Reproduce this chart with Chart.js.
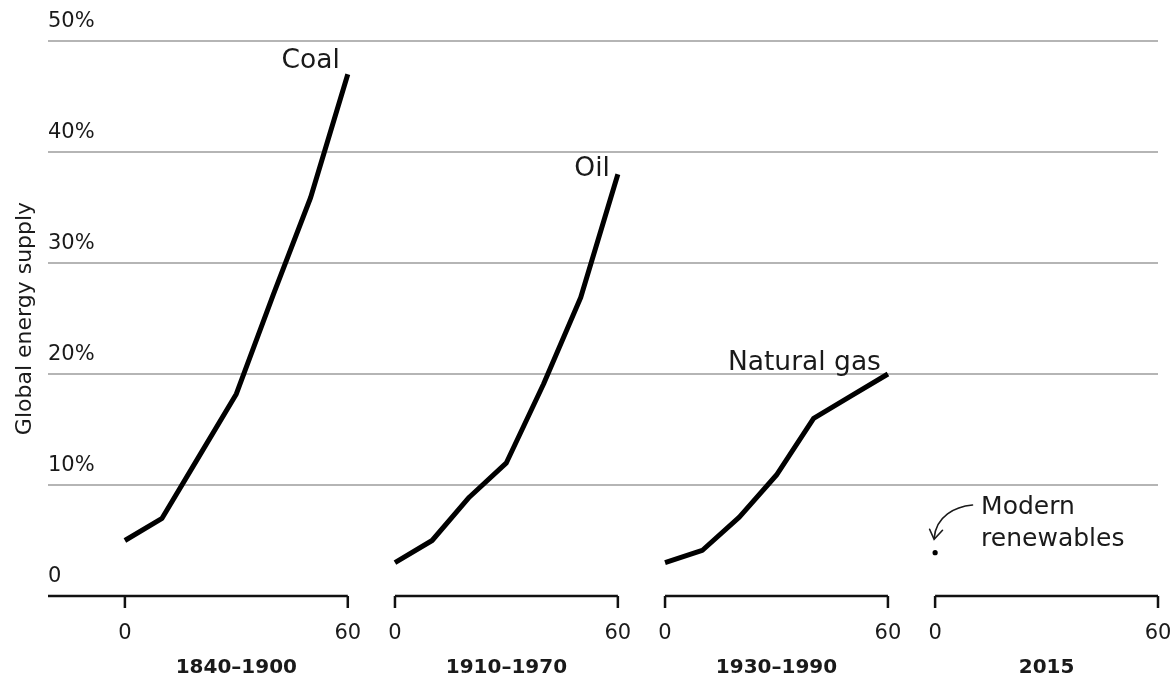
<!DOCTYPE html>
<html>
<head>
<meta charset="utf-8">
<script src="https://cdn.jsdelivr.net/npm/chart.js@4/dist/chart.umd.min.js"></script>
<style>
  html, body { margin: 0; padding: 0; background: #fff; }
  #wrap { width: 1174px; height: 675px; position: relative; }
</style>
</head>
<body>
<div id="wrap"><canvas id="myGraph"></canvas></div>
<script>
// years since the fuel reached ~3-5% of supply
var years = [0, 10, 20, 30, 40, 50, 60];
var coal = [5.0, 7.0, 12.6, 18.2, 27.2, 35.9, 47.0];
var oil = [3.0, 5.0, 8.9, 12.0, 19.1, 26.9, 38.0];
var gas = [3.0, 4.1, 7.1, 10.9, 16.0, 18.0, 20.0];
var renewYears = [0];
var renewables = [3.9];

var seriesNames = ['Coal', 'Oil', 'Natural gas'];
var periods = ['1840\u20131900', '1910\u20131970', '1930\u20131990', '2015'];
var xTicks = [0, 60];
var yTicks = [0, 10, 20, 30, 40, 50];

// each panel sits on one long linear axis, shifted by panelStep
var panelStep = 72.7;
var xMin = -20.7;
var xMax = 3 * panelStep + 60;

var FONT = "'DejaVu Sans', sans-serif";
var INK = '#1a1a1a';

Chart.defaults.font.family = FONT;
Chart.defaults.color = INK;

function toPoints(xs, ys, panel) {
    return xs.map(function (x, i) {
        return { x: x + panel * panelStep, y: ys[i] };
    });
}

var tickValues = [];
for (var p = 0; p < periods.length; p++) {
    xTicks.forEach(function (t) { tickValues.push(t + p * panelStep); });
}

var lineStyle = {
    borderColor: '#000',
    backgroundColor: '#000',
    borderWidth: 5,
    pointRadius: 0,
    tension: 0,
    borderJoinStyle: 'round',
    borderCapStyle: 'butt',
    fill: false
};

var panelPlugin = {
    id: 'panels',
    afterDatasetsDraw: function (chart) {
        var ctx = chart.ctx;
        var xs = chart.scales.x;
        var ys = chart.scales.y;
        var area = chart.chartArea;
        var y0 = ys.getPixelForValue(0);

        ctx.save();
        // panel axis brackets
        ctx.strokeStyle = '#111';
        ctx.lineWidth = 2.5;
        for (var p = 0; p < periods.length; p++) {
            var a = xs.getPixelForValue(p * panelStep);
            var b = xs.getPixelForValue(p * panelStep + 60);
            var start = p === 0 ? area.left : a;
            ctx.beginPath();
            ctx.moveTo(start, y0);
            ctx.lineTo(b, y0);
            ctx.moveTo(a, y0);
            ctx.lineTo(a, y0 + 12);
            ctx.moveTo(b, y0);
            ctx.lineTo(b, y0 + 12);
            ctx.stroke();

            ctx.fillStyle = INK;
            ctx.font = 'bold 20px ' + FONT;
            ctx.textAlign = 'center';
            ctx.textBaseline = 'alphabetic';
            ctx.fillText(periods[p], (a + b) / 2, 673);
        }

        // series labels at the end of each line
        var ends = [coal, oil, gas];
        var offs = [[-8, -6.5], [-8, 1.7], [-7, -4]];
        ctx.font = '26.5px ' + FONT;
        ctx.textAlign = 'right';
        ctx.textBaseline = 'alphabetic';
        for (var i = 0; i < ends.length; i++) {
            var last = ends[i].length - 1;
            var px = xs.getPixelForValue(years[last] + i * panelStep);
            var py = ys.getPixelForValue(ends[i][last]);
            ctx.fillText(seriesNames[i], px + offs[i][0], py + offs[i][1]);
        }

        // modern renewables note and arrow
        var dx = xs.getPixelForValue(renewYears[0] + 3 * panelStep);
        var dy = ys.getPixelForValue(renewables[0]);
        ctx.font = '25px ' + FONT;
        ctx.textAlign = 'left';
        ctx.fillText('Modern', dx + 46, dy - 38.5);
        ctx.fillText('renewables', dx + 46, dy - 6.5);

        ctx.strokeStyle = INK;
        ctx.lineWidth = 1.6;
        ctx.lineCap = 'round';
        ctx.beginPath();
        ctx.moveTo(dx + 37.4, dy - 47.7);
        ctx.bezierCurveTo(dx + 20, dy - 46, dx + 1, dy - 37, dx - 1, dy - 14.5);
        ctx.stroke();
        ctx.beginPath();
        ctx.moveTo(dx - 5.5, dy - 23.5);
        ctx.lineTo(dx - 1, dy - 13.4);
        ctx.lineTo(dx + 7.4, dy - 22.4);
        ctx.stroke();
        ctx.restore();
    }
};

var ctx = document.getElementById('myGraph');
var myGraph = new Chart(ctx, {
    type: 'line',
    data: {
        datasets: [
            Object.assign({ label: seriesNames[0], data: toPoints(years, coal, 0) }, lineStyle),
            Object.assign({ label: seriesNames[1], data: toPoints(years, oil, 1) }, lineStyle),
            Object.assign({ label: seriesNames[2], data: toPoints(years, gas, 2) }, lineStyle),
            {
                label: 'Modern renewables',
                data: toPoints(renewYears, renewables, 3),
                showLine: false,
                pointRadius: 2.6,
                pointBackgroundColor: '#000',
                pointBorderWidth: 0
            }
        ]
    },
    options: {
        responsive: true,
        maintainAspectRatio: false,
        animation: false,
        layout: { padding: { left: 5.6, right: 16, top: 41, bottom: 28.8 } },
        plugins: {
            legend: { display: false },
            tooltip: { enabled: false }
        },
        scales: {
            x: {
                type: 'linear',
                min: xMin,
                max: xMax,
                afterBuildTicks: function (axis) {
                    axis.ticks = tickValues.map(function (v) { return { value: v }; });
                },
                grid: { display: false, drawTicks: true, tickLength: 25 },
                border: { display: false },
                ticks: {
                    autoSkip: false,
                    maxRotation: 0,
                    padding: 0,
                    color: INK,
                    font: { size: 21 },
                    callback: function (v, i) { return String(xTicks[i % xTicks.length]); }
                }
            },
            y: {
                min: 0,
                max: 50,
                afterBuildTicks: function (axis) {
                    axis.ticks = yTicks.map(function (v) { return { value: v }; });
                },
                grid: {
                    drawTicks: false,
                    lineWidth: 2,
                    color: function (c) { return c.tick && c.tick.value === 0 ? 'rgba(0,0,0,0)' : '#b5b5b5'; }
                },
                border: { display: false },
                ticks: {
                    mirror: true,
                    padding: 0,
                    labelOffset: -19,
                    color: INK,
                    font: { size: 21 },
                    callback: function (v) { return v === 0 ? '0' : v + '%'; }
                },
                title: {
                    display: true,
                    text: 'Global energy supply',
                    color: INK,
                    font: { size: 22 },
                    padding: { top: 6, bottom: 10 }
                }
            }
        }
    },
    plugins: [panelPlugin]
});
</script>
</body>
</html>
